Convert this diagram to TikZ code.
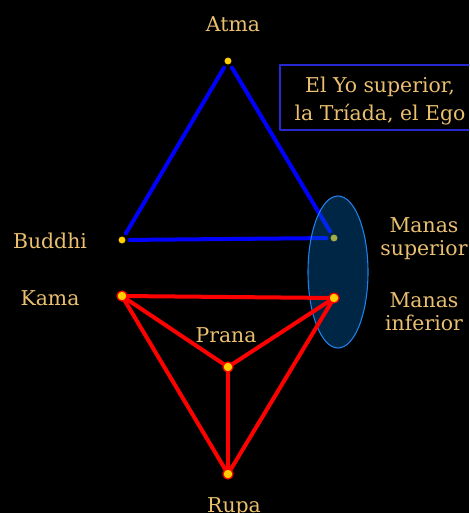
\documentclass[tikz,border=0pt]{standalone}
\usepackage{fontspec}
\setmainfont{DejaVu Serif}
\definecolor{gold}{RGB}{234,192,112}
\definecolor{dotyellow}{RGB}{255,206,0}
\definecolor{ellfill}{RGB}{0,110,200}
\definecolor{ellline}{RGB}{30,130,235}
\definecolor{boxblue}{RGB}{40,40,210}
\begin{document}
\begin{tikzpicture}[x=0.75pt,y=-0.75pt,line cap=round,line join=round,
  lbl/.style={text=gold,font=\fontsize{15.3}{17.5}\selectfont,align=center,inner sep=0pt},
  ydot/.style={circle,fill=dotyellow,inner sep=0pt,minimum size=5.2pt},
  rdot/.style={circle,fill=dotyellow,draw=red,line width=0.9pt,inner sep=0pt,minimum size=7.5pt},
  bline/.style={line width=3pt,blue,shorten >=3pt,shorten <=3pt},
  rline/.style={line width=3pt,red}]
  \useasboundingbox (0,0) rectangle (469,513);
  \clip (0,0) rectangle (469,513);
  \fill[black] (0,0) rectangle (469,513);
  \node[ydot] (atma) at (228,61) {};
  \node[ydot] (buddhi) at (122,240) {};
  \node[ydot] (manasS) at (334,238) {};
  \draw[bline] (atma) -- (buddhi);
  \draw[bline] (atma) -- (manasS);
  \draw[bline] (buddhi) -- (manasS);
  \fill[ellfill,fill opacity=0.35] (338,272) ellipse [x radius=30,y radius=76];
  \draw[ellline,line width=0.8pt] (338,272) ellipse [x radius=30,y radius=76];
  \coordinate (kamaC) at (122,296);
  \coordinate (manasIC) at (334,298);
  \coordinate (pranaC) at (228,367);
  \coordinate (rupaC) at (228,474);
  \draw[rline] (kamaC) -- (manasIC);
  \draw[rline] (kamaC) -- (pranaC);
  \draw[rline] (manasIC) -- (pranaC);
  \draw[rline] (kamaC) -- (rupaC);
  \draw[rline] (manasIC) -- (rupaC);
  \draw[rline] (pranaC) -- (rupaC);
  \node[rdot] (kama) at (kamaC) {};
  \node[rdot] (manasI) at (manasIC) {};
  \node[rdot] (prana) at (pranaC) {};
  \node[rdot] (rupa) at (rupaC) {};
  \node[lbl,anchor=base] (atmaL) at (233,32) {Atma};
  \node[lbl,anchor=base] (buddhiL) at (50,248) {Buddhi};
  \node[lbl,anchor=base] (kamaL) at (50,305) {Kama};
  \node[lbl,anchor=base] (pranaL) at (226,342) {Prana};
  \node[lbl,anchor=base] (rupaL) at (234,512) {Rupa};
  \node[lbl] (manasSL) at (424,239) {Manas\\superior};
  \node[lbl] (manasIL) at (424,312) {Manas\\inferior};
  \node[lbl,draw=boxblue,line width=0.8pt,minimum width=165pt,minimum height=48.75pt,
    font=\fontsize{15.3}{21}\selectfont] (ego) at (390,97.5) {};
  \node[lbl,font=\fontsize{15.3}{21}\selectfont] (egoT) at (380,101) {El Yo superior,\\la Tríada, el Ego};
\end{tikzpicture}
\end{document}
